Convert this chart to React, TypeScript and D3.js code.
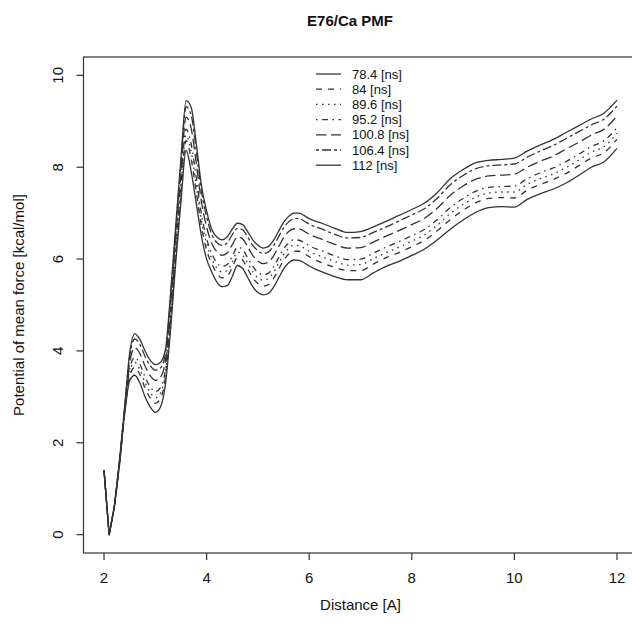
import * as d3 from 'd3'

const distance = [
  2.0, 2.1, 2.2, 2.3, 2.4, 2.5, 2.6, 2.7, 2.8, 2.9, 3.0, 3.1, 3.2, 3.3, 3.4, 3.5, 3.6, 3.7, 3.8, 3.9, 4.0,
  4.1, 4.2, 4.3, 4.4, 4.5, 4.6, 4.7, 4.8, 4.9, 5.0, 5.1, 5.2, 5.3, 5.4, 5.5, 5.6, 5.7, 5.8, 5.9, 6.0,
  6.25, 6.5, 6.75, 7.0, 7.25, 7.5, 7.75, 8.0, 8.25, 8.5, 8.75, 9.0, 9.25, 9.5, 9.75, 10.0, 10.25, 10.5,
  10.75, 11.0, 11.25, 11.5, 11.75, 12.0,
]

const pmf784 = [
  1.4, 0.0, 0.6, 1.5, 2.6, 3.35, 3.47, 3.3, 3.0, 2.78, 2.66, 2.78, 3.3, 4.5, 5.95, 7.25, 8.37, 7.9, 7.2, 6.5, 6.0,
  5.72, 5.5, 5.4, 5.42, 5.62, 5.86, 5.8, 5.6, 5.4, 5.27, 5.22, 5.25, 5.38, 5.58, 5.78, 5.92, 5.98, 5.97, 5.92, 5.85,
  5.72, 5.62, 5.55, 5.55, 5.7, 5.84, 5.95, 6.08, 6.22, 6.42, 6.65, 6.85, 7.02, 7.12, 7.14, 7.13, 7.3, 7.42,
  7.52, 7.65, 7.82, 8.0, 8.12, 8.41,
]
const pmf84 = [
  1.4, 0.0, 0.6, 1.52, 2.63, 3.46, 3.64, 3.48, 3.19, 2.97, 2.86, 2.96, 3.44, 4.65, 6.1, 7.43, 8.58, 8.17, 7.45, 6.71, 6.2,
  5.9, 5.69, 5.59, 5.62, 5.82, 6.03, 5.98, 5.79, 5.59, 5.47, 5.41, 5.44, 5.57, 5.77, 5.97, 6.11, 6.17, 6.17, 6.12, 6.05,
  5.92, 5.82, 5.75, 5.75, 5.89, 6.03, 6.14, 6.27, 6.41, 6.62, 6.86, 7.06, 7.23, 7.32, 7.34, 7.33, 7.5, 7.62,
  7.73, 7.86, 8.03, 8.2, 8.32, 8.61,
]
const pmf896 = [
  1.4, 0.0, 0.6, 1.53, 2.65, 3.54, 3.75, 3.59, 3.31, 3.1, 2.98, 3.08, 3.53, 4.75, 6.2, 7.54, 8.7, 8.33, 7.6, 6.84, 6.33,
  6.01, 5.8, 5.72, 5.75, 5.94, 6.15, 6.09, 5.91, 5.72, 5.59, 5.54, 5.57, 5.7, 5.9, 6.1, 6.23, 6.3, 6.29, 6.24, 6.17,
  6.05, 5.95, 5.87, 5.88, 6.01, 6.14, 6.26, 6.39, 6.53, 6.74, 6.99, 7.19, 7.35, 7.44, 7.46, 7.46, 7.63, 7.75,
  7.85, 7.99, 8.15, 8.33, 8.45, 8.74,
]
const pmf952 = [
  1.4, 0.0, 0.6, 1.54, 2.66, 3.61, 3.86, 3.71, 3.43, 3.22, 3.11, 3.2, 3.62, 4.84, 6.29, 7.66, 8.83, 8.5, 7.76, 6.97, 6.45,
  6.12, 5.92, 5.84, 5.88, 6.06, 6.26, 6.21, 6.03, 5.84, 5.71, 5.66, 5.69, 5.82, 6.02, 6.22, 6.35, 6.42, 6.41, 6.36, 6.29,
  6.18, 6.07, 5.99, 6.0, 6.13, 6.26, 6.38, 6.51, 6.65, 6.86, 7.12, 7.32, 7.48, 7.56, 7.58, 7.59, 7.75, 7.88,
  7.98, 8.12, 8.28, 8.45, 8.58, 8.86,
]
const pmf1008 = [
  1.4, 0.0, 0.6, 1.57, 2.7, 3.75, 4.07, 3.94, 3.67, 3.46, 3.36, 3.43, 3.8, 5.04, 6.49, 7.89, 9.09, 8.84, 8.07, 7.24, 6.7,
  6.34, 6.16, 6.08, 6.13, 6.31, 6.48, 6.44, 6.27, 6.08, 5.96, 5.9, 5.93, 6.06, 6.26, 6.46, 6.6, 6.66, 6.66, 6.61, 6.54,
  6.43, 6.32, 6.24, 6.25, 6.37, 6.5, 6.62, 6.75, 6.89, 7.11, 7.39, 7.59, 7.74, 7.81, 7.83, 7.85, 8.0, 8.13,
  8.24, 8.39, 8.54, 8.7, 8.83, 9.11,
]
const pmf1064 = [
  1.4, 0.0, 0.6, 1.59, 2.73, 3.88, 4.26, 4.14, 3.88, 3.68, 3.58, 3.63, 3.96, 5.2, 6.65, 8.09, 9.32, 9.13, 8.34, 7.47, 6.92,
  6.54, 6.36, 6.3, 6.35, 6.53, 6.67, 6.64, 6.48, 6.3, 6.18, 6.12, 6.15, 6.28, 6.48, 6.68, 6.81, 6.88, 6.88, 6.83, 6.76,
  6.65, 6.54, 6.46, 6.47, 6.58, 6.7, 6.83, 6.96, 7.1, 7.33, 7.62, 7.82, 7.97, 8.03, 8.05, 8.07, 8.22, 8.35,
  8.47, 8.62, 8.77, 8.92, 9.05, 9.33,
]
const pmf112 = [
  1.4, 0.0, 0.6, 1.6, 2.75, 3.95, 4.37, 4.25, 4.0, 3.8, 3.7, 3.75, 4.05, 5.3, 6.75, 8.2, 9.45, 9.3, 8.5, 7.6, 7.05,
  6.65, 6.48, 6.42, 6.48, 6.65, 6.78, 6.75, 6.6, 6.42, 6.3, 6.24, 6.27, 6.4, 6.6, 6.8, 6.93, 7.0, 7.0, 6.95, 6.88,
  6.78, 6.67, 6.58, 6.6, 6.7, 6.82, 6.95, 7.08, 7.22, 7.45, 7.75, 7.95, 8.1, 8.15, 8.17, 8.2, 8.35, 8.48,
  8.6, 8.75, 8.9, 9.05, 9.18, 9.46,
]

const seriesLabels = ['78.4 [ns]', '84 [ns]', '89.6 [ns]', '95.2 [ns]', '100.8 [ns]', '106.4 [ns]', '112 [ns]']
const seriesValues = [pmf784, pmf84, pmf896, pmf952, pmf1008, pmf1064, pmf112]
const xTicks = [2, 4, 6, 8, 10, 12]
const yTicks = [0, 2, 4, 6, 8, 10]

// R lty 1..6 then 1 again
const DASHES = ['none', '6 6', '1.5 4.5', '1.5 4.5 6 4.5', '10.5 4.5', '3 3 9 3', 'none']

const W = 632
const H = 632
const pad = { l: 83.5, r: 637.5, t: 57, b: 553 }
const FONT = '"Liberation Sans", Arial, Helvetica, sans-serif'
const INK = '#333'
const SPLIT = 2 // sharp V at the start, smooth afterwards

export default function App() {
  const x = d3.scaleLinear().domain([1.6, 12.4]).range([pad.l, pad.r])
  const y = d3.scaleLinear().domain([-0.4, 10.4]).range([pad.b, pad.t])
  const pts = (vals: number[]) => vals.map((v, i) => [x(distance[i]), y(v)] as [number, number])
  const sharp = d3.line()
  const smooth = d3.line().curve(d3.curveMonotoneX)
  const pathFor = (vals: number[]) => {
    const p = pts(vals)
    const a = sharp(p.slice(0, SPLIT + 1)) || ''
    const b = smooth(p.slice(SPLIT)) || ''
    return a + 'L' + b.slice(1)
  }

  const legX = 316
  const legY = 74
  const legStep = 15.2

  return (
    <svg width={W} height={H} style={{ position: 'absolute', left: 0, top: 0, background: '#fff' }}
      fontFamily={FONT}>
      <rect x={0} y={0} width={W} height={H} fill="#fff" />

      <text x={350} y={26} textAnchor="middle" fontSize={15} fontWeight="bold" fill="#111">E76/Ca PMF</text>

      {/* box */}
      <rect x={pad.l} y={pad.t} width={pad.r - pad.l} height={pad.b - pad.t} fill="none" stroke={INK} strokeWidth={1.2} />

      {/* x axis */}
      {xTicks.map(t => (
        <g key={'x' + t}>
          <line x1={x(t)} x2={x(t)} y1={pad.b} y2={pad.b + 7} stroke={INK} strokeWidth={1.2} />
          <text x={x(t)} y={583} textAnchor="middle" fontSize={15} fill="#111">{t}</text>
        </g>
      ))}
      {/* y axis */}
      {yTicks.map(t => (
        <g key={'y' + t}>
          <line x1={pad.l - 7} x2={pad.l} y1={y(t)} y2={y(t)} stroke={INK} strokeWidth={1.2} />
          <text transform={`translate(63,${y(t)}) rotate(-90)`} textAnchor="middle" fontSize={15} fill="#111">{t}</text>
        </g>
      ))}

      <text x={(pad.l + pad.r) / 2} y={610} textAnchor="middle" fontSize={15} fill="#111">Distance [A]</text>
      <text transform={`translate(24,${(pad.t + pad.b) / 2}) rotate(-90)`} textAnchor="middle" fontSize={15} fill="#111">
        Potential of mean force [kcal/mol]
      </text>

      {/* curves */}
      {seriesValues.map((vals, i) => (
        <path key={seriesLabels[i]} d={pathFor(vals)} fill="none" stroke={INK} strokeWidth={1.3}
          strokeDasharray={DASHES[i]} strokeLinejoin="round" />
      ))}

      {/* legend */}
      {seriesLabels.map((lab, i) => (
        <g key={'leg' + lab}>
          <line x1={legX} x2={legX + 25} y1={legY + i * legStep} y2={legY + i * legStep}
            stroke={INK} strokeWidth={1.3} strokeDasharray={DASHES[i]} />
          <text x={legX + 36} y={legY + i * legStep + 4.5} fontSize={13} fill="#111">{lab}</text>
        </g>
      ))}
    </svg>
  )
}
